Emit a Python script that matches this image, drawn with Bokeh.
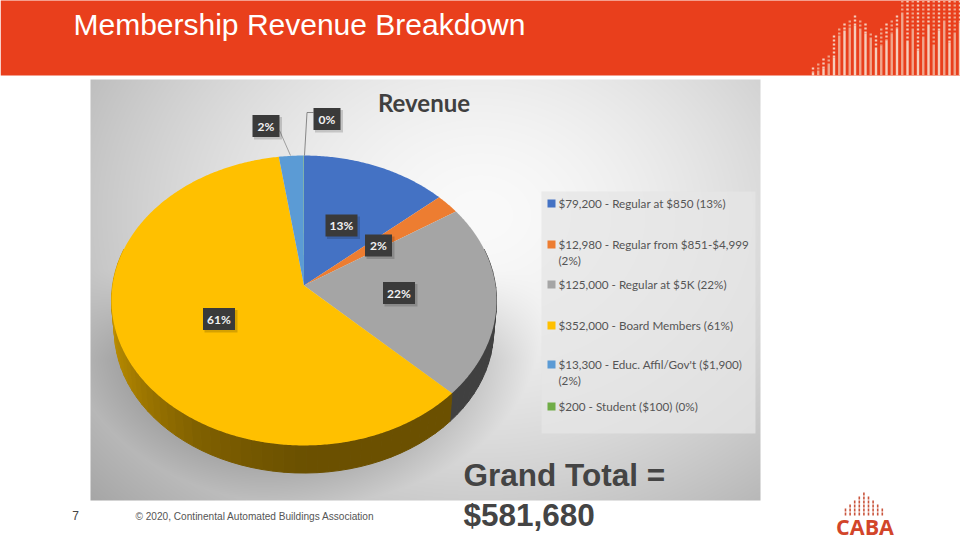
import numpy as np
from bokeh.plotting import figure
from bokeh.embed import file_html
from bokeh.resources import INLINE
from bokeh.core.properties import value

# ---- data
revenue = [79200, 12980, 125000, 352000, 13300, 200]
slice_colors = ["#4472C4", "#ED7D31", "#A5A5A5", "#FFC000", "#5B9BD5", "#70AD47"]
pct_labels = ["13%", "2%", "22%", "61%", "2%", "0%"]
legend_labels = [
    ["$79,200 - Regular at $850 (13%)"],
    ["$12,980 - Regular from $851-$4,999", "(2%)"],
    ["$125,000 - Regular at $5K (22%)"],
    ["$352,000 - Board Members (61%)"],
    ["$13,300 - Educ. Affil/Gov't ($1,900)", "(2%)"],
    ["$200 - Student ($100) (0%)"],
]
title_text = "Membership Revenue Breakdown"
chart_title = "Revenue"
grand_total = ["Grand Total =", "$581,680"]
footer_text = "\u00a9 2020, Continental Automated Buildings Association"
page_number = "7"

W, H = 960, 540
p = figure(width=W, height=H, x_range=(0, W), y_range=(0, H), toolbar_location=None,
           output_backend="svg", min_border=0, outline_line_color=None,
           background_fill_color="white", border_fill_color="white")
p.axis.visible = False
p.grid.visible = False
p.styles = {"position": "absolute", "left": "0px", "top": "0px"}


def Y(py):
    return H - np.asarray(py, dtype=float)


def text(x, y, s, size, color, font="Liberation Sans", style="normal", align="left"):
    p.text([x], [float(Y(y))], text=[s], text_font=value(font), text_font_size=f"{size}px",
           text_color=color, text_font_style=style, text_align=align, text_baseline="middle")


# ---- picture background with soft gradient and the pie's shadow
ix0, ix1, iy0, iy1 = 90, 760, 79, 500
xx, yy = np.meshgrid(np.arange(ix0, ix1) + .5, np.arange(iy0, iy1) + .5)
d = np.sqrt(((xx - 480) / 430) ** 2 + ((yy - 215) / 340) ** 2)
g = 250 - 60 * np.clip(d, 0, 1.25) ** 1.6
sd = np.sqrt(((xx - 303) / 212) ** 2 + ((yy - 325) / 160) ** 2)
shadow = np.clip((1.12 - sd) / .22, 0, 1) * np.clip((yy - 270) / 90, 0, 1)
g = g - 30 * shadow
g = np.clip(g, 0, 255).astype(np.uint32)
img = (255 << 24) | (g << 16) | (g << 8) | g
p.image_rgba(image=[img[::-1].astype(np.uint32)], x=ix0, y=float(Y(iy1)), dw=ix1 - ix0, dh=iy1 - iy0)

# legend panel
p.quad(left=541, right=755, top=float(Y(191)), bottom=float(Y(433)), fill_color="#E6E6E6",
       fill_alpha=.75, line_color=None)

# ---- pie with perspective projection
cx, cy, R, h, k, depth = 303.5, 285.0, 191.5, 143.4, 0.1034, 30.0
theta = 2 * np.pi * np.cumsum([0] + revenue) / sum(revenue)


def proj(t, scale=1.0, dy=0.0):
    w = 1 + k * np.cos(t)
    return cx + scale * R * np.sin(t) / w, cy - scale * h * np.cos(t) / w + dy


# side wall
shade_t = np.radians([90, 134, 180, 210, 240, 270, 280])
shade_yellow = [.42, .42, .42, .50, .66, .78, .80]
for i in range(len(revenue)):
    a, b = max(theta[i], np.radians(75)), min(theta[i + 1], np.radians(285))
    if b <= a:
        continue
    n = max(2, int((b - a) / np.radians(3)))
    ts = np.linspace(a, b, n + 1)
    base = np.array([int(slice_colors[i][j:j + 2], 16) for j in (1, 3, 5)])
    for t0, t1 in zip(ts[:-1], ts[1:]):
        x0, y0 = proj(t0)
        x1, y1 = proj(t1)
        x2, y2 = proj(t1, .985, depth)
        x3, y3 = proj(t0, .985, depth)
        f = np.interp((t0 + t1) / 2, shade_t, shade_yellow)
        col = "#404040" if i == 2 else "#%02x%02x%02x" % tuple((base * f).astype(int))
        p.patch([x0, x1, x2, x3], list(Y([y0, y1, y2, y3])), fill_color=col, line_color=col, line_width=1)

# top face
for i, c in enumerate(slice_colors):
    ts = np.linspace(theta[i], theta[i + 1], max(3, int((theta[i + 1] - theta[i]) / .01)))
    xs, ys = proj(ts)
    p.patch([cx, *xs], list(Y([cy, *ys])), fill_color=c, line_color=None)

# ---- leaders and data labels
p.line([279, 290], list(Y([130, 155])), line_color="#8c8c8c", line_width=.8)
p.line([313, 306.5, 304], list(Y([112, 112, 155])), line_color="#6e6e6e", line_width=.8)
box_centers = [(341, 225), (378, 245), (398.5, 292.5), (218.5, 318.5), (265.5, 125.5), (326.5, 118.5)]
for (bx, by), s in zip(box_centers, pct_labels):
    hw, hh = 16 if len(s) == 3 else 13.5, 11
    p.quad(left=bx - hw + 1.5, right=bx + hw + 2.5, top=float(Y(by - hh + 2)), bottom=float(Y(by + hh + 2.5)),
           fill_color="#000000", fill_alpha=.16, line_color=None)
    p.quad(left=bx - hw, right=bx + hw, top=float(Y(by - hh)), bottom=float(Y(by + hh)),
           fill_color="#3A3A3A", line_color=None)
    text(bx, by, s, 12, "#F2F2F2", font="Lato", style="bold", align="center")

text(423.5, 102, chart_title, 24, "#404040", font="Lato", style="bold", align="center")

# ---- legend
row_y = [203, 244, 284, 325, 364, 406]
for c, lines, ry in zip(slice_colors, legend_labels, row_y):
    p.quad(left=547, right=555, top=float(Y(ry - 4)), bottom=float(Y(ry + 4)), fill_color=c, line_color=None)
    for j, s in enumerate(lines):
        text(558, ry - 1 + j * 16, s, 11.7, "#555555", font="Lato")

# ---- slide chrome
p.quad(left=0, right=W, top=H + 1, bottom=float(Y(75)), fill_color="#E93F1C", line_color=None)
text(73, 24, title_text, 30, "#FFFFFF")

# banner motif: one column every ~5.25 px
motif_dot_top = [67, 63, 58, 55, 35, 28, 23, 20, 15, 20, 23, 33, 35, 28, 23, 20, 15,
                 0, 0, 0, 0, 0, 0, 0, 0, 0, 0, 0, 0, 0, 0]
motif_solid_top = [72, 70, 68, 63, 57, 35, 30, 27, 25, 28, 33, 37, 47, 45, 40, 33, 28,
                   12, 40, 28, 50, 36, 24, 44, 30, 20, 42, 32, 22, 46, 36]
for i, (dt, st) in enumerate(zip(motif_dot_top, motif_solid_top)):
    mx = 812.5 + i * 5.25
    col = "#F6CDBB" if i % 2 == 0 else "#F0A58C"
    p.segment([mx], [float(Y(dt))], [mx], [float(Y(st))], line_color=col, line_width=2.4, line_dash="2 2")
    p.segment([mx], [float(Y(st))], [mx], [float(Y(75))], line_color=col, line_width=2.4)

# footer
text(75, 515, page_number, 12, "#444444", align="center")
text(135, 516, footer_text, 10.1, "#555555")
text(463, 474, grand_total[0], 31.5, "#444444", style="bold")
text(463, 514, grand_total[1], 31.5, "#444444", style="bold")

# CABA logo
logo_tops = [508, 504, 500, 496, 492, 496, 500, 504, 508]
for i, t in enumerate(logo_tops):
    lx = 845 + i * 4.6
    p.segment([lx], [float(Y(t))], [lx], [float(Y(516))], line_color="#C9553C", line_width=1.6, line_dash="3 1")
text(864.5, 526, "CABA", 21.5, "#D2452A", font="Open Sans", style="bold", align="center")

open("out.html", "w").write(file_html(p, INLINE))
